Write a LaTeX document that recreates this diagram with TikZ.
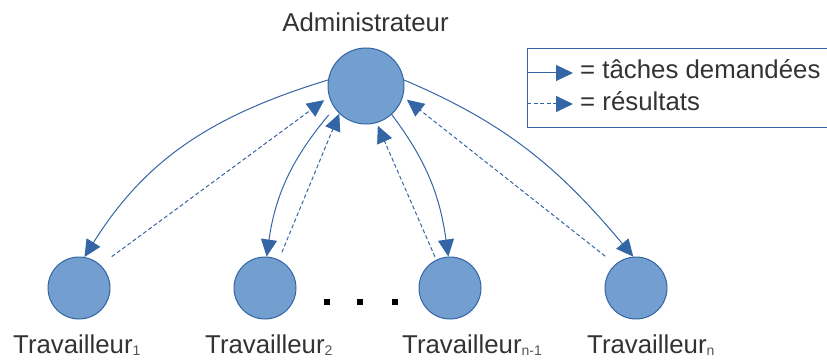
\documentclass[tikz,border=0pt]{standalone}
\usepackage{fontspec}
\setmainfont{Liberation Sans}
\usetikzlibrary{arrows.meta,calc}
\definecolor{nodefill}{HTML}{729FCF}
\definecolor{nodeline}{HTML}{3465A4}
\definecolor{txt}{HTML}{333333}
\definecolor{subtxt}{HTML}{555555}
% small lowered index after a worker's name
\newcommand\wsub[1]{\raisebox{-2pt}{\fontsize{14}{14}\selectfont\color{subtxt}#1}}
\begin{document}
\begin{tikzpicture}[x=1pt,y=1pt,
  bigtext/.style={font=\fontsize{25.8}{30}\selectfont, text=txt, inner sep=0pt},
  admin/.style={circle, fill=nodefill, draw=nodeline, line width=1pt, minimum size=76pt, inner sep=0pt},
  worker/.style={circle, fill=nodefill, draw=nodeline, line width=1pt, minimum size=62pt, inner sep=0pt},
  task/.style={draw=nodeline, line width=1pt, -{Triangle[length=17pt,width=16pt,fill=nodeline]}},
  result/.style={task, dash pattern=on 4pt off 2.5pt},
  dotmark/.style={fill=black, minimum size=6pt, inner sep=0pt},
  legendbox/.style={draw=nodeline, line width=1pt}]
\useasboundingbox (0,0) rectangle (827,362);

% nodes
\node[admin] (adm) at (366,276) {};
\node[bigtext, anchor=base] (admlabel) at (365.5,330) {Administrateur};
\node[worker] (w1) at (79,74) {};
\node[worker] (w2) at (265,74) {};
\node[worker] (w3) at (450,74) {};
\node[worker] (w4) at (636,74) {};

\node[bigtext, anchor=base west] (l1) at (13,9) {Travailleur\wsub{1}};
\node[bigtext, anchor=base west] (l2) at (205,9) {Travailleur\wsub{2}};
\node[bigtext, anchor=base west] (l3) at (402,9) {Travailleur\wsub{n-1}};
\node[bigtext, anchor=base west] (l4) at (587,9) {Travailleur\wsub{n}};

\node[dotmark] (d1) at (327,60) {};
\node[dotmark] (d2) at (360,60) {};
\node[dotmark] (d3) at (395,60) {};

% tasks sent by the administrator
\draw[task] (adm.171) to[out=197,in=58] (w1.80);
\draw[task, shorten <=9pt] (adm.215) to[out=230,in=82] (w2.87);
\draw[task] (adm.312) to[out=307,in=98] (w3.93);
\draw[task] (adm.9) to[out=-23,in=130] (w4.95);

% results returned by the workers
\draw[result, shorten <=14pt, shorten >=6pt] (w1.47) -- (adm.196);
\draw[result, shorten <=8pt] (w2.64) -- (adm.226);
\draw[result, shorten <=3pt, shorten >=3pt] (w3.116) -- (adm.286);
\draw[result, shorten <=13pt, shorten >=5pt] (w4.131) -- (adm.344);

% legend
\coordinate (lbtr) at (827,313);
\coordinate (lbtl) at (527,313);
\coordinate (lbbl) at (527,234);
\coordinate (lbbr) at (827,234);
\draw[legendbox] (lbtr) -- (lbtl) -- (lbbl) -- (lbbr);
\coordinate (ta) at (527,289);
\coordinate (tb) at (573,289);
\coordinate (ra) at (527,258);
\coordinate (rb) at (573,258);
\draw[task] (ta) -- (tb);
\draw[result] (ra) -- (rb);
\node[bigtext, anchor=base west] (lt) at (580,283) {= tâches demandées};
\node[bigtext, anchor=base west] (lr) at (580,251) {= résultats};
\end{tikzpicture}
\end{document}
